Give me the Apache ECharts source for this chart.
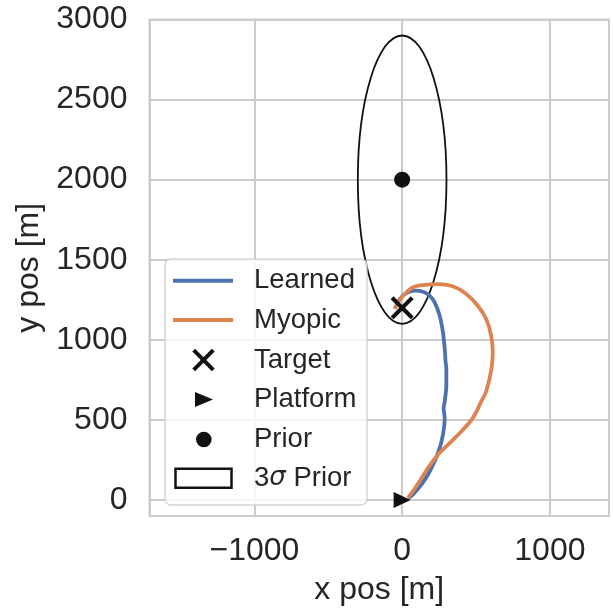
<!DOCTYPE html>
<html>
<head>
<meta charset="utf-8">
<script src="https://cdn.jsdelivr.net/npm/echarts@6/dist/echarts.min.js"></script>
<style>
html,body{margin:0;padding:0;background:#fff;}
#chart{width:613px;height:611px;}
</style>
</head>
<body>
<div id="chart"></div>
<script>
// ---- data ----
const learnedX = [40, 74, 131, 175, 220, 254, 276, 288, 281, 288, 299, 299, 299, 294, 288, 276, 254, 220, 187, 142, 86, 29, -15, -49];
const learnedY = [10, 35, 97, 159, 242, 324, 407, 511, 573, 614, 717, 759, 821, 862, 945, 1048, 1151, 1234, 1275, 1300, 1307, 1292, 1256, 1194];
const myopicX = [40, 74, 119, 175, 242, 321, 400, 478, 535, 568, 605, 613, 602, 568, 512, 434, 343, 242, 142, 74, 18, -27, -49];
const myopicY = [14, 56, 118, 200, 283, 355, 428, 511, 614, 676, 822, 924, 1027, 1131, 1213, 1286, 1334, 1348, 1342, 1328, 1286, 1234, 1194];
const target = [0, 1200];
const platform = [0, 0];
const prior = [0, 2000];
const priorSemiAxes = [300, 900]; // 3-sigma semi-axes (x, y)
const seriesNames = ['Learned', 'Myopic', 'Target', 'Platform', 'Prior', '3σ Prior'];
const xRange = [-1710, 1400];
const yRange = [-100, 3000];

const BLUE = '#4c72b0', ORANGE = '#dd8452', INK = '#111111', TXT = '#262626', GRID = '#cccccc';
const FONT = 'Liberation Sans, Arial, sans-serif';
const X_PATH = 'path://M0,3L3,0L12,9L21,0L24,3L15,12L24,21L21,24L12,15L3,24L0,21L9,12Z';

const zip = (xs, ys) => xs.map((x, i) => [x, ys[i]]);
const fmt = v => (v < 0 ? '\u2212' + Math.abs(v) : String(v));

const chart = echarts.init(document.getElementById('chart'), null, {renderer: 'canvas'});

// legend (drawn as graphic elements)
const legX = 165, legY = 259, rowY = [280.7, 320, 360, 399.5, 439.5, 478.3];
const iconC = 203.5, textX = 254;
const legendEls = [
  {type: 'rect', shape: {x: legX, y: legY, width: 202, height: 246, r: 6},
   style: {fill: 'rgba(255,255,255,0.8)', stroke: 'rgba(204,204,204,0.8)', lineWidth: 1.5}},
  {type: 'line', shape: {x1: 173, y1: rowY[0], x2: 233, y2: rowY[0]}, style: {stroke: BLUE, lineWidth: 4}},
  {type: 'line', shape: {x1: 173, y1: rowY[1], x2: 233, y2: rowY[1]}, style: {stroke: ORANGE, lineWidth: 4}},
  {type: 'line', shape: {x1: iconC - 9.8, y1: rowY[2] - 9.8, x2: iconC + 9.8, y2: rowY[2] + 9.8}, style: {stroke: INK, lineWidth: 4}},
  {type: 'line', shape: {x1: iconC - 9.8, y1: rowY[2] + 9.8, x2: iconC + 9.8, y2: rowY[2] - 9.8}, style: {stroke: INK, lineWidth: 4}},
  {type: 'polygon', shape: {points: [[195, rowY[3] - 7.5], [213, rowY[3]], [195, rowY[3] + 7.5]]}, style: {fill: INK}},
  {type: 'circle', shape: {cx: iconC + 0.3, cy: rowY[4], r: 7.8}, style: {fill: INK}},
  {type: 'rect', shape: {x: 175.5, y: rowY[5] - 9.5, width: 56, height: 19}, style: {fill: '#fff', stroke: INK, lineWidth: 2.5}}
];
seriesNames.forEach((n, i) => {
  let style = {x: textX, y: rowY[i], fill: TXT, font: '27.5px ' + FONT, align: 'left', verticalAlign: 'middle', text: n};
  if (n === '3σ Prior') {
    style.text = '3{s|σ} Prior';
    style.rich = {s: {fontFamily: 'DejaVu Sans', fontStyle: 'italic', fontSize: 26, fill: TXT, fontWeight: 'normal'}};
  }
  legendEls.push({type: 'text', style: style});
});
legendEls.forEach(e => { e.z = 100; });

const option = {
  animation: false,
  backgroundColor: '#ffffff',
  grid: {left: 149.5, right: 4, top: 19.5, bottom: 92.5, show: true, borderColor: GRID, borderWidth: 2, containLabel: false},
  xAxis: {
    type: 'value', min: xRange[0], max: xRange[1], splitNumber: 3,
    name: 'x pos [m]', nameLocation: 'middle', nameGap: 58,
    nameTextStyle: {fontSize: 32, color: TXT, fontFamily: FONT},
    axisLine: {show: false}, axisTick: {show: false},
    axisLabel: {fontSize: 32, color: TXT, fontFamily: FONT, margin: 19, showMinLabel: false, showMaxLabel: false, formatter: fmt},
    splitLine: {show: true, lineStyle: {color: GRID, width: 2}}
  },
  yAxis: {
    type: 'value', min: yRange[0], max: yRange[1],
    name: 'y pos [m]', nameLocation: 'middle', nameGap: 101,
    nameTextStyle: {fontSize: 32, color: TXT, fontFamily: FONT},
    axisLine: {show: false}, axisTick: {show: false},
    axisLabel: {fontSize: 32, color: TXT, fontFamily: FONT, margin: 22, showMinLabel: false, showMaxLabel: true, formatter: fmt,
                padding: [3, 0, 0, 0]},
    splitLine: {show: true, lineStyle: {color: GRID, width: 2}}
  },
  graphic: legendEls,
  series: [
    {
      name: '3σ Prior', type: 'custom', encode: {x: 0, y: 1},
      data: [[prior[0], prior[1], priorSemiAxes[0], priorSemiAxes[1]]],
      renderItem: function (params, api) {
        const c = api.coord([api.value(0), api.value(1)]);
        const s = api.size([api.value(2), api.value(3)]);
        return {type: 'ellipse', shape: {cx: c[0], cy: c[1], rx: s[0], ry: s[1]},
                style: {fill: 'none', stroke: INK, lineWidth: 1.8}};
      },
      z: 2
    },
    {name: 'Learned', type: 'line', data: zip(learnedX, learnedY), showSymbol: false, smooth: 0.3,
     lineStyle: {color: BLUE, width: 3.8}, itemStyle: {color: BLUE}, z: 3},
    {name: 'Myopic', type: 'line', data: zip(myopicX, myopicY), showSymbol: false, smooth: 0.35,
     lineStyle: {color: ORANGE, width: 3.8}, itemStyle: {color: ORANGE}, z: 4},
    {name: 'Target', type: 'scatter', data: [target], symbol: X_PATH, symbolSize: 23,
     itemStyle: {color: INK, opacity: 1}, z: 5},
    {name: 'Platform', type: 'scatter', data: [platform], symbol: 'triangle', symbolRotate: -90, symbolSize: [16, 17],
     itemStyle: {color: INK, opacity: 1}, z: 5},
    {name: 'Prior', type: 'scatter', data: [prior], symbol: 'circle', symbolSize: 16,
     itemStyle: {color: INK, opacity: 1}, z: 5}
  ]
};
chart.setOption(option);
</script>
</body>
</html>
